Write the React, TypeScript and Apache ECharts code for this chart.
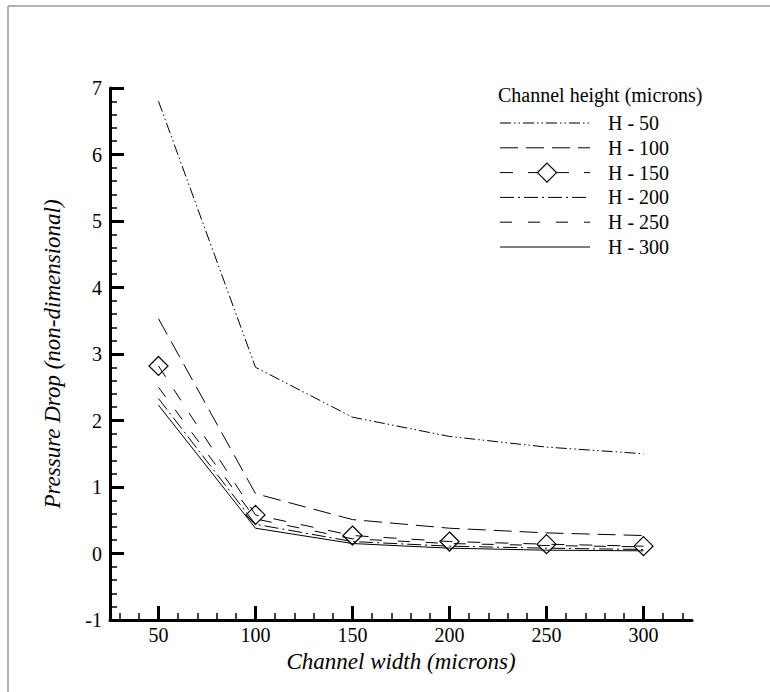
import React, { useEffect, useRef } from "react";
import * as echarts from "echarts";

// Channel widths (microns) on the x axis
const widths = [50, 100, 150, 200, 250, 300];

// Non-dimensional pressure drop for each channel height
const h50 = [6.8, 2.8, 2.05, 1.76, 1.6, 1.5];
const h100 = [3.53, 0.9, 0.51, 0.38, 0.31, 0.27];
const h150 = [2.82, 0.58, 0.27, 0.18, 0.14, 0.11];
const h200 = [2.33, 0.44, 0.18, 0.11, 0.08, 0.06];
const h250 = [2.5, 0.52, 0.22, 0.15, 0.12, 0.1];
const h300 = [2.23, 0.38, 0.15, 0.08, 0.05, 0.04];

const seriesNames = ["H - 50", "H - 100", "H - 150", "H - 200", "H - 250", "H - 300"];
const seriesValues = [h50, h100, h150, h200, h250, h300];
const markerSeries = "H - 150";

// Tick positions on the width axis
const xMajorTicks = [50, 100, 150, 200, 250, 300];
const xMinorTicks = [
  30, 40, 60, 70, 80, 90, 110, 120, 130, 140, 160, 170, 180, 190,
  210, 220, 230, 240, 260, 270, 280, 290, 310, 320,
];

const FONT = "Liberation Serif, Times New Roman, serif";

// Dash pattern for each height
const dashes: (number[] | "solid")[] = [
  [11, 3, 1.5, 3, 1.5, 3],
  [18, 8],
  [13, 15],
  [14, 4, 2, 4],
  [12, 16],
  "solid",
];

// Legend box placement
const LEG_X = 500;
const LEG_Y0 = 123;
const LEG_STEP = 24.8;
const LEG_LINE = 90;
const LEG_TEXT_X = 608;
const DIAMOND = 19;

export default function App() {
  const ref = useRef<HTMLDivElement>(null);

  useEffect(() => {
    if (!ref.current) return;
    const chart = echarts.init(ref.current, undefined, { renderer: "svg" });

    const series = seriesNames.map((name, i) => {
      const withMarker = name === markerSeries;
      return {
        name,
        type: "line",
        data: widths.map((w, j) => [w, seriesValues[i][j]]),
        symbol: withMarker ? "diamond" : "none",
        symbolSize: DIAMOND,
        showSymbol: withMarker,
        lineStyle: { color: "#000", width: 1, type: dashes[i] },
        itemStyle: withMarker
          ? { color: "transparent", borderColor: "#000", borderWidth: 1.2 }
          : { color: "#000" },
        emphasis: { disabled: true },
        z: 2,
      };
    });

    // Legend drawn as graphics so each entry keeps its own dash pattern
    const legendGraphics: any[] = [
      {
        type: "text",
        x: 498,
        y: 95,
        style: {
          text: "Channel height (microns)",
          font: `20px ${FONT}`,
          fill: "#000",
          verticalAlign: "middle",
        },
        silent: true,
      },
    ];
    seriesNames.forEach((name, i) => {
      const cy = LEG_Y0 + i * LEG_STEP;
      const dash = dashes[i];
      legendGraphics.push({
        type: "line",
        shape: { x1: LEG_X, y1: cy, x2: LEG_X + LEG_LINE, y2: cy },
        style: {
          stroke: "#000",
          lineWidth: 1,
          lineDash: dash === "solid" ? null : dash,
        },
        silent: true,
      });
      if (name === markerSeries) {
        const cx = LEG_X + LEG_LINE / 2 + 2;
        const r = DIAMOND / 2;
        legendGraphics.push({
          type: "polygon",
          shape: { points: [[cx, cy - r], [cx + r, cy], [cx, cy + r], [cx - r, cy]] },
          style: { fill: "#fff", stroke: "#000", lineWidth: 1.2 },
          silent: true,
        });
      }
      legendGraphics.push({
        type: "text",
        x: LEG_TEXT_X,
        y: cy,
        style: { text: name, font: `20px ${FONT}`, fill: "#000", verticalAlign: "middle" },
        silent: true,
      });
    });

    const axisText = { fontFamily: FONT, fontSize: 20, color: "#000" };
    const nameText = { fontFamily: FONT, fontSize: 23, fontStyle: "italic", color: "#000" };

    chart.setOption({
      animation: false,
      backgroundColor: "#fff",
      grid: {
        left: 110,
        right: 78,
        top: 88,
        bottom: 72,
        containLabel: false,
        outerBoundsMode: "none",
      },
      xAxis: [
        {
          type: "value",
          min: 25,
          max: 325,
          position: "bottom",
          name: "Channel width (microns)",
          nameLocation: "middle",
          nameGap: 21,
          nameTextStyle: nameText,
          axisLine: { show: true, onZero: false, lineStyle: { color: "#000", width: 3 } },
          axisTick: {
            show: true,
            inside: true,
            length: 14,
            customValues: xMajorTicks,
            lineStyle: { color: "#000", width: 3 },
          },
          axisLabel: { ...axisText, margin: 5, customValues: xMajorTicks },
          splitLine: { show: false },
          z: 3,
        },
        {
          type: "value",
          min: 25,
          max: 325,
          position: "bottom",
          axisLine: { show: false, onZero: false },
          axisTick: {
            show: true,
            inside: true,
            length: 7,
            customValues: xMinorTicks,
            lineStyle: { color: "#000", width: 1.5 },
          },
          axisLabel: { show: false },
          splitLine: { show: false },
        },
      ],
      yAxis: {
        type: "value",
        min: -1,
        max: 7,
        interval: 1,
        name: "Pressure Drop (non-dimensional)",
        nameLocation: "middle",
        nameGap: 46,
        nameTextStyle: nameText,
        axisLine: { show: true, onZero: false, lineStyle: { color: "#000", width: 3 } },
        axisTick: { show: true, inside: true, length: 14, lineStyle: { color: "#000", width: 3 } },
        minorTick: { show: true, splitNumber: 5, length: 7, lineStyle: { color: "#000", width: 1.5 } },
        axisLabel: { ...axisText, margin: 8 },
        splitLine: { show: false },
        minorSplitLine: { show: false },
      },
      graphic: [
        {
          type: "line",
          shape: { x1: 8, y1: 6, x2: 770, y2: 6 },
          style: { stroke: "#999", lineWidth: 1.5 },
          silent: true,
        },
        {
          type: "line",
          shape: { x1: 8, y1: 6, x2: 8, y2: 692 },
          style: { stroke: "#999", lineWidth: 1.5 },
          silent: true,
        },
        ...legendGraphics,
      ],
      series,
    });

    return () => chart.dispose();
  }, []);

  return (
    <div
      ref={ref}
      style={{ position: "fixed", left: 0, top: 0, width: 770, height: 692, background: "#fff" }}
    />
  );
}
